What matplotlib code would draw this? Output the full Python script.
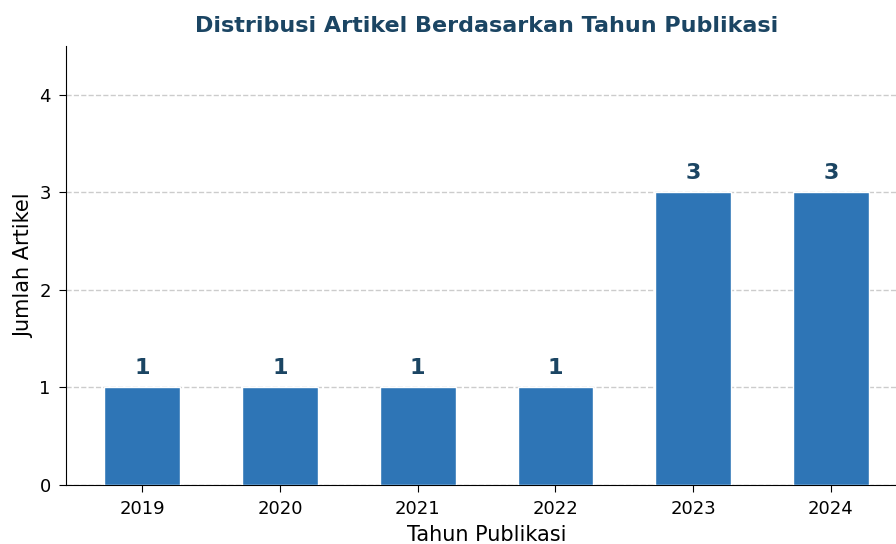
import matplotlib
matplotlib.use("Agg")
import matplotlib.pyplot as plt

# data
tahun = ['2019', '2020', '2021', '2022', '2023', '2024']
jumlah = [1, 1, 1, 1, 3, 3]

fig = plt.figure(figsize=(8.96, 5.44), dpi=100)
ax = fig.add_axes([0.0737, 0.1085, 0.9386, 0.807])

bars = ax.bar(tahun, jumlah, width=0.55, color='#2e75b6', edgecolor='white', linewidth=1, zorder=3)

for b, v in zip(bars, jumlah):
    ax.text(b.get_x() + b.get_width() / 2, v + 0.1, str(v), ha='center', va='bottom',
            fontsize=16, fontweight='bold', color='#1b4563')

ax.set_ylim(0, 4.5)
ax.set_yticks([0, 1, 2, 3, 4])
ax.grid(axis='y', linestyle='--', color='#cccccc', linewidth=1, zorder=0)
ax.spines['top'].set_visible(False)
ax.spines['right'].set_visible(False)
ax.tick_params(labelsize=13, length=5, pad=6)

ax.set_title('Distribusi Artikel Berdasarkan Tahun Publikasi', fontsize=16, fontweight='bold',
             color='#1b4563', pad=10)
ax.set_xlabel('Tahun Publikasi', fontsize=15, labelpad=5)
ax.set_ylabel('Jumlah Artikel', fontsize=15, labelpad=4)

fig.savefig('out.png', dpi=100)
